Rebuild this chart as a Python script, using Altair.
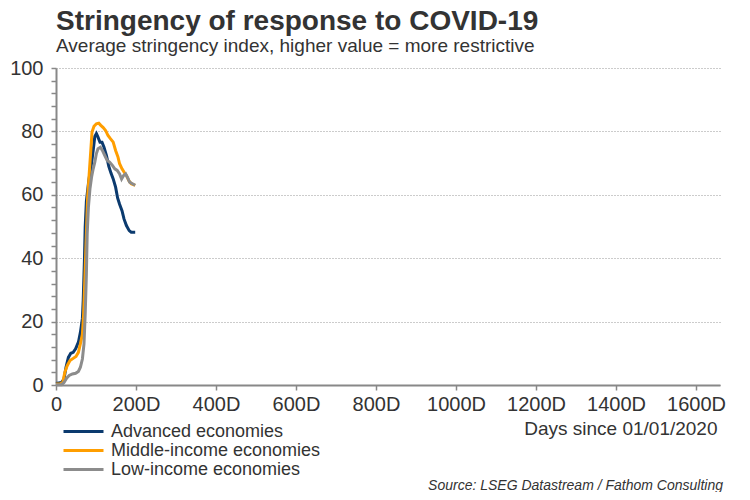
import altair as alt
import pandas as pd

# Advanced economies
adv_days = [0, 14, 20, 25, 31, 37, 43, 49, 56, 61, 66, 68, 71, 73, 76, 82, 89, 93, 97, 101,
            105, 110, 115, 120, 126, 132, 137, 143, 149, 154, 159, 165, 170, 176, 183, 188, 198]
adv_vals = [0.5, 0.8, 1.9, 5.6, 8.7, 10.0, 10.3, 11.4, 13.5, 16.6, 21.0, 26.6, 39.0, 50.0, 58.0, 64.5, 70.0, 74.0, 78.4, 79.3,
            78.2, 76.6, 76.6, 75.0, 72.4, 69.0, 67.0, 65.0, 62.4, 59.0, 57.0, 55.0, 52.4, 50.3, 48.7, 48.2, 48.2]

# Middle-income economies
mid_days = [0, 10, 17, 22, 28, 35, 43, 50, 56, 61, 66, 69, 72, 76, 79, 83, 87, 90, 95, 101,
            107, 112, 118, 124, 130, 136, 143, 149, 155, 159, 165, 170, 176, 182, 188, 198]
mid_vals = [0.3, 0.3, 0.8, 4.0, 6.1, 7.7, 8.4, 9.0, 10.3, 13.0, 16.0, 22.4, 33.0, 47.7, 59.0, 66.6, 74.0, 79.8, 81.6, 82.4,
            82.6, 81.9, 81.2, 80.3, 78.7, 77.7, 76.6, 74.0, 71.9, 69.8, 68.2, 67.2, 66.1, 64.5, 63.5, 63.0]

# Low-income economies
low_days = [0, 14, 20, 27, 33, 41, 49, 56, 61, 66, 70, 73, 76, 78, 81, 85, 89, 93, 97, 101,
            105, 111, 116, 122, 128, 134, 141, 147, 153, 159, 164, 169, 174, 179, 184, 191, 198]
low_vals = [0.1, 0.1, 0.8, 2.2, 3.0, 3.5, 3.7, 4.3, 5.6, 8.2, 13.0, 22.4, 35.0, 47.7, 56.0, 62.0, 65.6, 68.2, 70.3, 73.0,
            74.5, 75.0, 74.0, 72.4, 70.8, 70.3, 69.3, 68.2, 67.7, 66.6, 65.0, 66.1, 66.6, 65.4, 64.0, 63.5, 63.0]

series_names = ["Advanced economies", "Middle-income economies", "Low-income economies"]
series_colors = ["#0b3a6e", "#ff9e00", "#8c8c8c"]

x_ticks = [0, 200, 400, 600, 800, 1000, 1200, 1400, 1600]
y_ticks = list(range(0, 101, 4))

title_text = "Stringency of response to COVID-19"
subtitle_text = "Average stringency index, higher value = more restrictive"
x_title = "Days since 01/01/2020"
source_text = "Source: LSEG Datastream / Fathom Consulting"

rows = []
for k, (name, days, vals) in enumerate(zip(series_names, [adv_days, mid_days, low_days], [adv_vals, mid_vals, low_vals])):
    for d, v in zip(days, vals):
        rows.append({"series": name, "day": d, "value": v, "order": k})
df = pd.DataFrame(rows)

FONT = "Liberation Sans"
TXT = "#333333"

lines = alt.Chart(df).mark_line(strokeWidth=3).encode(
    x=alt.X("day:Q",
            scale=alt.Scale(domain=[0, 1660], nice=False, zero=False),
            axis=alt.Axis(values=x_ticks, labelExpr="datum.value == 0 ? '0' : datum.value + 'D'",
                          title=x_title, titleAnchor="end", titleAlign="right",
                          titleBaseline="alphabetic", titleX=661, titleY=49,
                          titleFontWeight="normal", titleFontSize=19, titleFont=FONT, titleColor=TXT,
                          labelFontSize=20, labelFont=FONT, labelColor=TXT, labelPadding=4,
                          domainColor="#888888", domainWidth=2, tickColor="#888888", tickSize=5,
                          tickWidth=1.5, grid=False, labelFlush=False, labelOverlap=False)),
    y=alt.Y("value:Q",
            scale=alt.Scale(domain=[0, 100], nice=False),
            axis=alt.Axis(values=y_ticks, title=None,
                          labelExpr="datum.value % 20 == 0 ? datum.label : ''",
                          labelFontSize=20, labelFont=FONT, labelColor=TXT, labelPadding=8,
                          domainColor="#888888", domainWidth=2, tickColor="#888888", tickSize=5,
                          tickWidth=1.5, grid=True,
                          gridOpacity=alt.condition("datum.value % 20 == 0", alt.value(1), alt.value(0)),
                          gridColor="#999999", gridDash=[1, 2], gridWidth=1, labelOverlap=False)),
    color=alt.Color("series:N",
                    scale=alt.Scale(domain=series_names, range=series_colors),
                    legend=alt.Legend(title=None, orient="none", legendX=18, legendY=354,
                                      direction="vertical", symbolType="M-2.5,0H2.5", symbolSize=256,
                                      symbolStrokeWidth=3, symbolFillColor="transparent",
                                      labelFontSize=18, labelFont=FONT,
                                      labelColor=TXT, labelOffset=18, rowPadding=0, padding=0,
                                      labelLimit=0)),
    order=alt.Order("order:Q"),
    detail="series:N",
)

source = alt.Chart(pd.DataFrame({"t": [source_text]})).mark_text(
    align="right", baseline="alphabetic", fontStyle="italic", fontSize=14, font=FONT, color=TXT
).encode(text="t:N", x=alt.value(667), y=alt.value(422))

chart = alt.layer(lines, source).properties(
    width=664, height=317,
    autosize="none",
    padding={"left": 48, "top": 60, "right": 22, "bottom": 107},
    title=alt.TitleParams(text=title_text, subtitle=subtitle_text, anchor="start", frame="group",
                          fontSize=28, font=FONT, fontWeight="bold", color=TXT,
                          subtitleFontSize=19, subtitleFont=FONT, subtitleColor=TXT,
                          offset=2, subtitlePadding=1),
).configure_view(stroke=None)

chart.save("out.html", embed_options={"renderer": "svg", "actions": False})
